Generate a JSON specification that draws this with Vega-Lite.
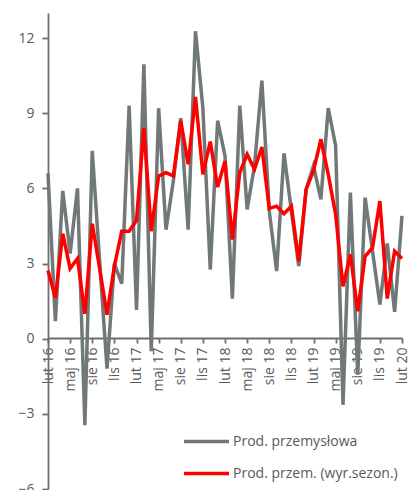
{
  "$schema": "https://vega.github.io/schema/vega-lite/v6.json",
  "width": 354,
  "height": 476,
  "autosize": {"type": "none"},
  "padding": {"left": 48, "top": 13, "right": 9, "bottom": 1},
  "background": "white",
  "config": {
    "view": {"stroke": null},
    "font": "Open Sans",
    "axis": {
      "domainColor": "#6e6e6e",
      "domainWidth": 1.8,
      "tickColor": "#6e6e6e",
      "tickWidth": 1.8,
      "labelColor": "#595959",
      "labelFontSize": 14,
      "labelFont": "Open Sans",
      "grid": false,
      "title": null
    }
  },
  "data": {
    "values": [
      {"m": "lut 16", "s": "Prod. przemysłowa", "v": 6.6},
      {"m": "mar 16", "s": "Prod. przemysłowa", "v": 0.7},
      {"m": "kwi 16", "s": "Prod. przemysłowa", "v": 5.9},
      {"m": "maj 16", "s": "Prod. przemysłowa", "v": 3.4},
      {"m": "cze 16", "s": "Prod. przemysłowa", "v": 6.0},
      {"m": "lip 16", "s": "Prod. przemysłowa", "v": -3.45},
      {"m": "sie 16", "s": "Prod. przemysłowa", "v": 7.5},
      {"m": "wrz 16", "s": "Prod. przemysłowa", "v": 3.1},
      {"m": "paź 16", "s": "Prod. przemysłowa", "v": -1.2},
      {"m": "lis 16", "s": "Prod. przemysłowa", "v": 3.0},
      {"m": "gru 16", "s": "Prod. przemysłowa", "v": 2.2},
      {"m": "sty 17", "s": "Prod. przemysłowa", "v": 9.3},
      {"m": "lut 17", "s": "Prod. przemysłowa", "v": 1.15},
      {"m": "mar 17", "s": "Prod. przemysłowa", "v": 10.95},
      {"m": "kwi 17", "s": "Prod. przemysłowa", "v": -0.5},
      {"m": "maj 17", "s": "Prod. przemysłowa", "v": 9.2},
      {"m": "cze 17", "s": "Prod. przemysłowa", "v": 4.35},
      {"m": "lip 17", "s": "Prod. przemysłowa", "v": 6.3},
      {"m": "sie 17", "s": "Prod. przemysłowa", "v": 8.8},
      {"m": "wrz 17", "s": "Prod. przemysłowa", "v": 4.35},
      {"m": "paź 17", "s": "Prod. przemysłowa", "v": 12.27},
      {"m": "lis 17", "s": "Prod. przemysłowa", "v": 9.2},
      {"m": "gru 17", "s": "Prod. przemysłowa", "v": 2.76},
      {"m": "sty 18", "s": "Prod. przemysłowa", "v": 8.7},
      {"m": "lut 18", "s": "Prod. przemysłowa", "v": 7.3},
      {"m": "mar 18", "s": "Prod. przemysłowa", "v": 1.6},
      {"m": "kwi 18", "s": "Prod. przemysłowa", "v": 9.3},
      {"m": "maj 18", "s": "Prod. przemysłowa", "v": 5.16},
      {"m": "cze 18", "s": "Prod. przemysłowa", "v": 6.9},
      {"m": "lip 18", "s": "Prod. przemysłowa", "v": 10.3},
      {"m": "sie 18", "s": "Prod. przemysłowa", "v": 5.1},
      {"m": "wrz 18", "s": "Prod. przemysłowa", "v": 2.7},
      {"m": "paź 18", "s": "Prod. przemysłowa", "v": 7.4},
      {"m": "lis 18", "s": "Prod. przemysłowa", "v": 5.1},
      {"m": "gru 18", "s": "Prod. przemysłowa", "v": 2.9},
      {"m": "sty 19", "s": "Prod. przemysłowa", "v": 5.96},
      {"m": "lut 19", "s": "Prod. przemysłowa", "v": 6.9},
      {"m": "mar 19", "s": "Prod. przemysłowa", "v": 5.56},
      {"m": "kwi 19", "s": "Prod. przemysłowa", "v": 9.2},
      {"m": "maj 19", "s": "Prod. przemysłowa", "v": 7.7},
      {"m": "cze 19", "s": "Prod. przemysłowa", "v": -2.64},
      {"m": "lip 19", "s": "Prod. przemysłowa", "v": 5.83},
      {"m": "sie 19", "s": "Prod. przemysłowa", "v": -1.44},
      {"m": "wrz 19", "s": "Prod. przemysłowa", "v": 5.63},
      {"m": "paź 19", "s": "Prod. przemysłowa", "v": 3.5},
      {"m": "lis 19", "s": "Prod. przemysłowa", "v": 1.36},
      {"m": "gru 19", "s": "Prod. przemysłowa", "v": 3.8},
      {"m": "sty 20", "s": "Prod. przemysłowa", "v": 1.07},
      {"m": "lut 20", "s": "Prod. przemysłowa", "v": 4.9},
      {"m": "lut 16", "s": "Prod. przem. (wyr.sezon.)", "v": 2.72},
      {"m": "mar 16", "s": "Prod. przem. (wyr.sezon.)", "v": 1.63},
      {"m": "kwi 16", "s": "Prod. przem. (wyr.sezon.)", "v": 4.19},
      {"m": "maj 16", "s": "Prod. przem. (wyr.sezon.)", "v": 2.8},
      {"m": "cze 16", "s": "Prod. przem. (wyr.sezon.)", "v": 3.2},
      {"m": "lip 16", "s": "Prod. przem. (wyr.sezon.)", "v": 0.99},
      {"m": "sie 16", "s": "Prod. przem. (wyr.sezon.)", "v": 4.59},
      {"m": "wrz 16", "s": "Prod. przem. (wyr.sezon.)", "v": 2.8},
      {"m": "paź 16", "s": "Prod. przem. (wyr.sezon.)", "v": 0.96},
      {"m": "lis 16", "s": "Prod. przem. (wyr.sezon.)", "v": 2.9},
      {"m": "gru 16", "s": "Prod. przem. (wyr.sezon.)", "v": 4.29},
      {"m": "sty 17", "s": "Prod. przem. (wyr.sezon.)", "v": 4.29},
      {"m": "lut 17", "s": "Prod. przem. (wyr.sezon.)", "v": 4.72},
      {"m": "mar 17", "s": "Prod. przem. (wyr.sezon.)", "v": 8.4},
      {"m": "kwi 17", "s": "Prod. przem. (wyr.sezon.)", "v": 4.29},
      {"m": "maj 17", "s": "Prod. przem. (wyr.sezon.)", "v": 6.5},
      {"m": "cze 17", "s": "Prod. przem. (wyr.sezon.)", "v": 6.63},
      {"m": "lip 17", "s": "Prod. przem. (wyr.sezon.)", "v": 6.5},
      {"m": "sie 17", "s": "Prod. przem. (wyr.sezon.)", "v": 8.7},
      {"m": "wrz 17", "s": "Prod. przem. (wyr.sezon.)", "v": 6.96},
      {"m": "paź 17", "s": "Prod. przem. (wyr.sezon.)", "v": 9.65},
      {"m": "lis 17", "s": "Prod. przem. (wyr.sezon.)", "v": 6.56},
      {"m": "gru 17", "s": "Prod. przem. (wyr.sezon.)", "v": 7.87},
      {"m": "sty 18", "s": "Prod. przem. (wyr.sezon.)", "v": 6.05},
      {"m": "lut 18", "s": "Prod. przem. (wyr.sezon.)", "v": 7.09},
      {"m": "mar 18", "s": "Prod. przem. (wyr.sezon.)", "v": 3.96},
      {"m": "kwi 18", "s": "Prod. przem. (wyr.sezon.)", "v": 6.63},
      {"m": "maj 18", "s": "Prod. przem. (wyr.sezon.)", "v": 7.36},
      {"m": "cze 18", "s": "Prod. przem. (wyr.sezon.)", "v": 6.76},
      {"m": "lip 18", "s": "Prod. przem. (wyr.sezon.)", "v": 7.65},
      {"m": "sie 18", "s": "Prod. przem. (wyr.sezon.)", "v": 5.2},
      {"m": "wrz 18", "s": "Prod. przem. (wyr.sezon.)", "v": 5.29},
      {"m": "paź 18", "s": "Prod. przem. (wyr.sezon.)", "v": 4.99},
      {"m": "lis 18", "s": "Prod. przem. (wyr.sezon.)", "v": 5.29},
      {"m": "gru 18", "s": "Prod. przem. (wyr.sezon.)", "v": 3.09},
      {"m": "sty 19", "s": "Prod. przem. (wyr.sezon.)", "v": 5.96},
      {"m": "lut 19", "s": "Prod. przem. (wyr.sezon.)", "v": 6.7},
      {"m": "mar 19", "s": "Prod. przem. (wyr.sezon.)", "v": 7.96},
      {"m": "kwi 19", "s": "Prod. przem. (wyr.sezon.)", "v": 6.56},
      {"m": "maj 19", "s": "Prod. przem. (wyr.sezon.)", "v": 4.96},
      {"m": "cze 19", "s": "Prod. przem. (wyr.sezon.)", "v": 2.09},
      {"m": "lip 19", "s": "Prod. przem. (wyr.sezon.)", "v": 3.36},
      {"m": "sie 19", "s": "Prod. przem. (wyr.sezon.)", "v": 1.09},
      {"m": "wrz 19", "s": "Prod. przem. (wyr.sezon.)", "v": 3.29},
      {"m": "paź 19", "s": "Prod. przem. (wyr.sezon.)", "v": 3.63},
      {"m": "lis 19", "s": "Prod. przem. (wyr.sezon.)", "v": 5.49},
      {"m": "gru 19", "s": "Prod. przem. (wyr.sezon.)", "v": 1.6},
      {"m": "sty 20", "s": "Prod. przem. (wyr.sezon.)", "v": 3.49},
      {"m": "lut 20", "s": "Prod. przem. (wyr.sezon.)", "v": 3.2}
    ]
  },
  "encoding": {
    "x": {
      "field": "m",
      "type": "ordinal",
      "sort": null,
      "scale": {"type": "point", "padding": 0},
      "axis": {
        "values": ["lut 16", "maj 16", "sie 16", "lis 16", "lut 17", "maj 17", "sie 17", "lis 17", "lut 18", "maj 18", "sie 18", "lis 18", "lut 19", "maj 19", "sie 19", "lis 19", "lut 20"],
        "labelAngle": -90,
        "labelAlign": "right",
        "labelBaseline": "middle",
        "offset": -151,
        "tickSize": 5,
        "labelPadding": 4
      }
    },
    "y": {
      "field": "v",
      "type": "quantitative",
      "scale": {"domain": [-6, 13], "nice": false, "zero": false},
      "axis": {
        "values": [-6, -3, 0, 3, 6, 9, 12],
        "tickSize": 6,
        "labelPadding": 8
      }
    },
    "color": {
      "field": "s",
      "type": "nominal",
      "scale": {
        "domain": ["Prod. przemysłowa", "Prod. przem. (wyr.sezon.)"],
        "range": ["#707878", "#ff0000"]
      },
      "legend": {
        "orient": "none",
        "legendX": 134,
        "legendY": 404,
        "title": null,
        "symbolType": "M-1,0H1",
        "symbolSize": 2025,
        "symbolStrokeWidth": 3.5,
        "labelFontSize": 14,
        "labelColor": "#595959",
        "labelFont": "Open Sans",
        "labelOffset": 2,
        "labelLimit": 300,
        "rowPadding": -5,
        "padding": 0
      }
    }
  },
  "layer": [
    {
      "transform": [{"filter": "datum.s === 'Prod. przemysłowa'"}],
      "mark": {"type": "line", "strokeWidth": 3.5}
    },
    {
      "transform": [{"filter": "datum.s !== 'Prod. przemysłowa'"}],
      "mark": {"type": "line", "strokeWidth": 3.5}
    }
  ]
}
